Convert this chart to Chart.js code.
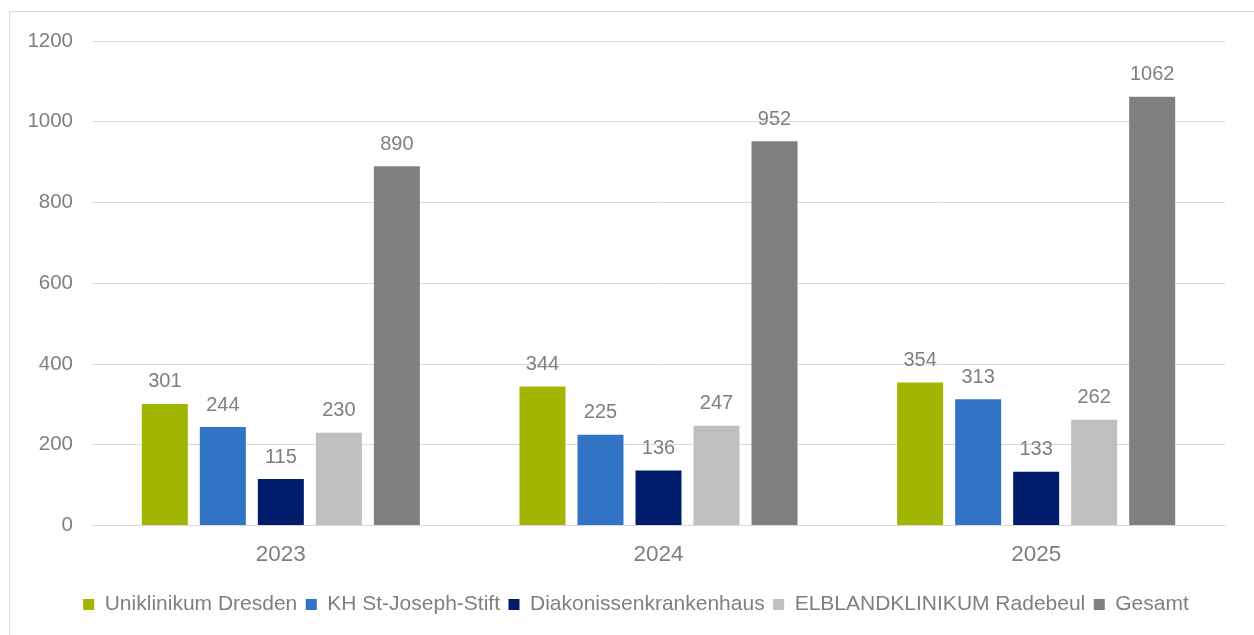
<!DOCTYPE html>
<html>
<head>
<meta charset="utf-8">
<script src="https://cdn.jsdelivr.net/npm/chart.js@4.4.1/dist/chart.umd.min.js"></script>
<style>
  html, body { margin: 0; padding: 0; background: #ffffff; overflow: hidden; }
  #frame {
    position: absolute; left: 9px; top: 11px; width: 1300px; height: 700px;
    border: 1px solid #d9d9d9; box-sizing: border-box;
  }
  #wrap { position: absolute; left: 0; top: 0; width: 1254px; height: 635px; }
</style>
</head>
<body>
<div id="frame"></div>
<div id="wrap"><canvas id="chart"></canvas></div>
<script>
// Jahre
const years = ["2023", "2024", "2025"];

// Werte je Klinik
const uniklinikum = [301, 344, 354];
const josephStift = [244, 225, 313];
const diakonissen = [115, 136, 133];
const elbland = [230, 247, 262];
const gesamt = [890, 952, 1062];

const seriesNames = [
  "Uniklinikum Dresden",
  "KH St-Joseph-Stift",
  "Diakonissenkrankenhaus",
  "ELBLANDKLINIKUM Radebeul",
  "Gesamt",
];
const seriesColors = ["#a2b500", "#3174c5", "#001c6a", "#bfbfbf", "#7f7f7f"];

const yTicks = [0, 200, 400, 600, 800, 1000, 1200];

const textColor = "#7f7f7f";
const fontFamily = "'Liberation Sans', Arial, sans-serif";

// values above the bars
const barValues = {
  id: "barValues",
  afterDatasetsDraw(chart) {
    const ctx = chart.ctx;
    ctx.save();
    ctx.fillStyle = textColor;
    ctx.font = "20px " + fontFamily;
    ctx.textAlign = "center";
    ctx.textBaseline = "bottom";
    chart.data.datasets.forEach((ds, i) => {
      chart.getDatasetMeta(i).data.forEach((bar, j) => {
        ctx.fillText(String(ds.data[j]), bar.x, bar.y - 12);
      });
    });
    ctx.restore();
  },
};

// legend sits a bit right of the canvas centre in the original
const shiftLegend = {
  id: "shiftLegend",
  afterLayout(chart) {
    if (chart.legend) chart.legend.left += 47;
  },
};

const allValues = [uniklinikum, josephStift, diakonissen, elbland, gesamt];

new Chart(document.getElementById("chart"), {
  type: "bar",
  data: {
    labels: years,
    datasets: allValues.map((vals, i) => ({
      label: seriesNames[i],
      data: vals,
      backgroundColor: seriesColors[i],
      borderWidth: 0,
      categoryPercentage: 0.768,
      barPercentage: 0.793,
    })),
  },
  options: {
    responsive: true,
    maintainAspectRatio: false,
    animation: false,
    layout: { padding: { top: 41, right: 29, left: 0, bottom: 10 } },
    plugins: {
      legend: {
        position: "bottom",
        labels: {
          boxWidth: 11,
          boxHeight: 11,
          padding: 8.5,
          color: textColor,
          font: { size: 21, family: fontFamily },
        },
      },
      tooltip: { enabled: false },
    },
    scales: {
      x: {
        grid: { display: false, drawTicks: false },
        border: { display: true, color: "#d9d9d9", width: 1 },
        ticks: {
          color: textColor,
          padding: 16,
          font: { size: 22.5, family: fontFamily },
        },
        afterFit(scale) { scale.height = 60; },
      },
      y: {
        min: 0,
        max: 1200,
        afterBuildTicks(scale) { scale.ticks = yTicks.map(v => ({ value: v })); },
        grid: { color: "#d9d9d9", drawTicks: false },
        border: { display: false },
        ticks: {
          color: textColor,
          padding: 19,
          font: { size: 20.5, family: fontFamily },
          callback: (v) => String(v),
        },
        afterFit(scale) { scale.width = 92; },
      },
    },
  },
  plugins: [barValues, shiftLegend],
});
</script>
</body>
</html>
